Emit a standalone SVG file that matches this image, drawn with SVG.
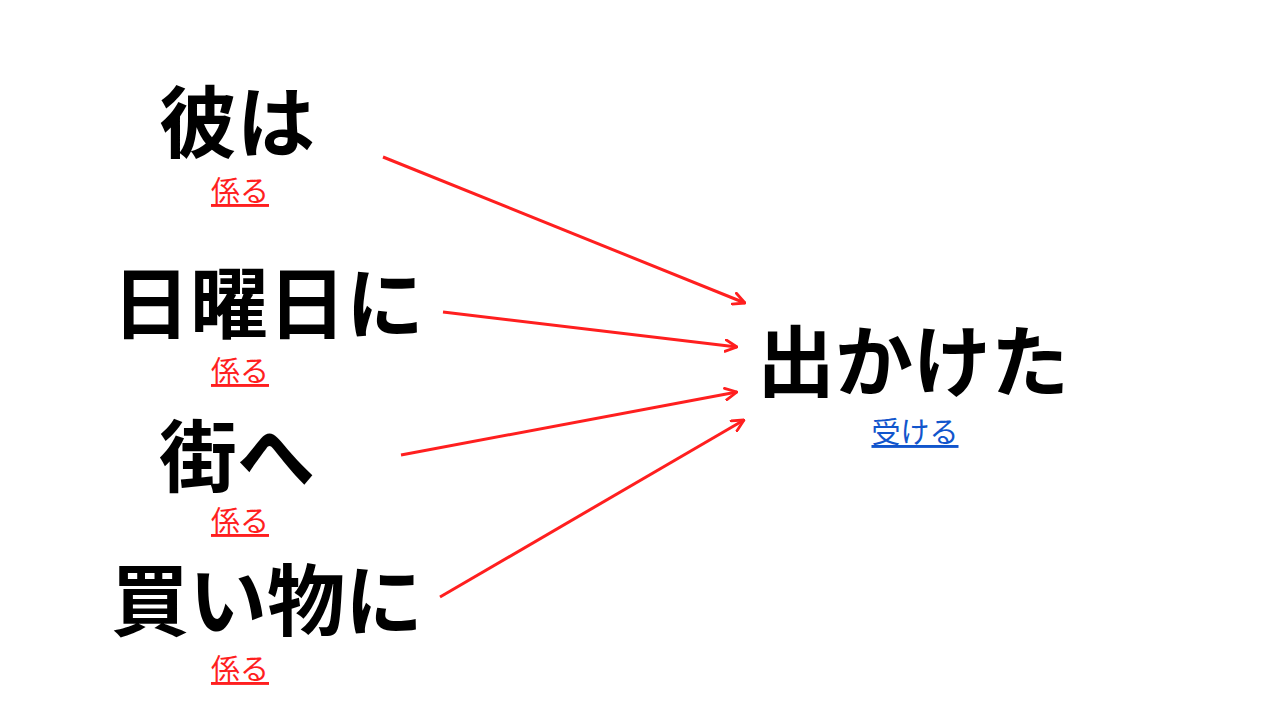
<svg xmlns="http://www.w3.org/2000/svg" width="1280" height="720" viewBox="0 0 1280 720">
<defs>
<style>
.big{font-family:"Noto Sans CJK JP","Noto Sans CJK SC",sans-serif;font-weight:700;font-size:78px;fill:#000;dominant-baseline:central}
.rel{font-family:"Noto Sans CJK JP","Noto Sans CJK SC",sans-serif;font-size:29px;fill:#ff1f1f;text-decoration:underline;text-anchor:middle;dominant-baseline:central}
.rcv{font-family:"Noto Sans CJK JP","Noto Sans CJK SC",sans-serif;font-size:29px;fill:#1155cc;text-decoration:underline;text-anchor:middle;dominant-baseline:central}
.edge{stroke:#ff1f1f;stroke-width:3;fill:none;marker-end:url(#arr)}
</style>
<marker id="arr" viewBox="0 0 12 12" refX="11" refY="6" markerWidth="14" markerHeight="14" markerUnits="userSpaceOnUse" orient="auto">
<path d="M1,1 L11,6 L1,11" fill="none" stroke="#ff1f1f" stroke-width="2.4" stroke-linecap="round" stroke-linejoin="round"/>
</marker>
</defs>
<rect width="1280" height="720" fill="#fff"/>
<g id="connectors">
<line class="edge" x1="383" y1="157" x2="745" y2="303"/>
<line class="edge" x1="443" y1="312" x2="737" y2="347"/>
<line class="edge" x1="401" y1="455" x2="737" y2="392"/>
<line class="edge" x1="440" y1="597" x2="744" y2="420"/>
</g>
<g id="n1"><text class="big" x="159" y="118">彼は</text><text class="rel" x="240" y="189">係る</text></g>
<g id="n2"><text class="big" x="112" y="299">日曜日に</text><text class="rel" x="240" y="369">係る</text></g>
<g id="n3"><text class="big" x="159" y="452">街へ</text><text class="rel" x="240" y="519">係る</text></g>
<g id="n4"><text class="big" x="111" y="596">買い物に</text><text class="rel" x="240" y="667">係る</text></g>
<g id="n5"><text class="big" x="757" y="357">出かけた</text><text class="rcv" x="915" y="430">受ける</text></g>
</svg>
